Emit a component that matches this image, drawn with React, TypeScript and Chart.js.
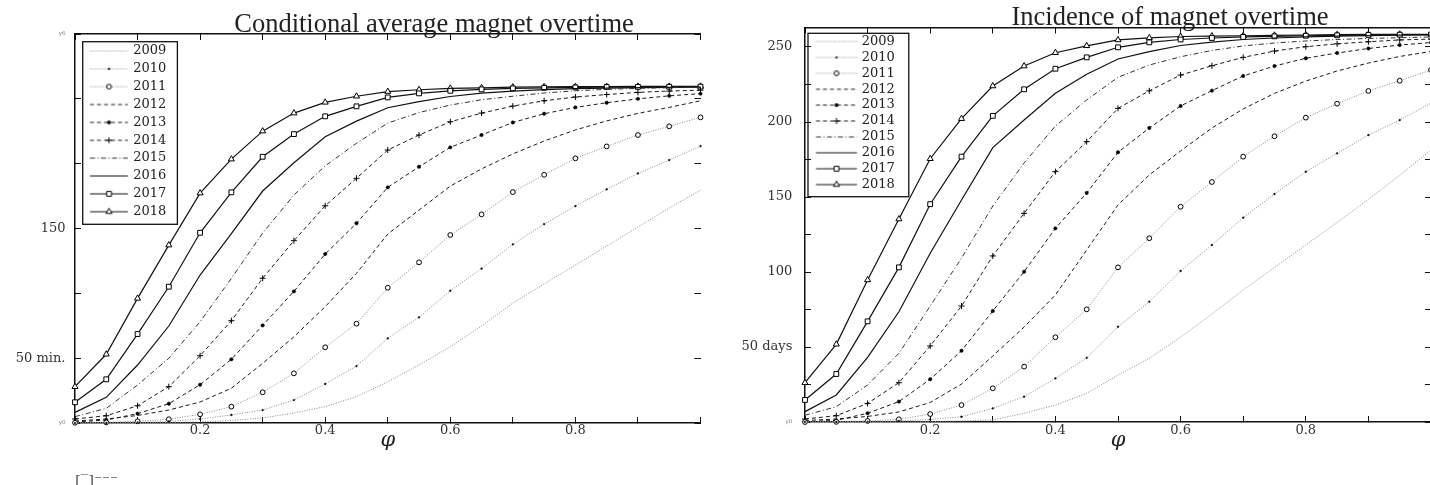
import React, { useEffect, useRef } from 'react';
import { Chart, registerables } from 'chart.js';

Chart.register(...registerables);

// ---------- data ----------
const PHI = [0, 0.05, 0.1, 0.15, 0.2, 0.25, 0.3, 0.35, 0.4, 0.45, 0.5, 0.55, 0.6, 0.65, 0.7, 0.75, 0.8, 0.85, 0.9, 0.95, 1];
const YEARS = ['2009', '2010', '2011', '2012', '2013', '2014', '2015', '2016', '2017', '2018'];

// Conditional average magnet overtime (minutes)
const AVG_2009 = [0, 0, 0, 0.4, 0.8, 1.9, 3.9, 7.7, 12.6, 20.3, 31.8, 44.7, 58.8, 74.8, 92.5, 107.2, 121.8, 136.5, 151.1, 165.8, 179.6];
const AVG_2010 = [0, 0, 0.4, 1.2, 3.1, 6.2, 10.0, 17.7, 30.1, 43.9, 65.3, 81.5, 102.0, 119.1, 137.8, 153.4, 167.3, 180.2, 192.5, 202.8, 213.6];
const AVG_2011 = [0.2, 0.5, 1.3, 2.9, 6.7, 12.6, 23.7, 38.3, 58.4, 76.6, 104.3, 123.9, 145.0, 160.9, 178.1, 191.4, 204.1, 213.3, 222.1, 228.8, 235.7];
const AVG_2012 = [1.5, 3.1, 5.8, 10.0, 16.2, 26.8, 46.0, 66.5, 89.7, 115.4, 145.7, 164.2, 182.7, 196.0, 207.5, 217.5, 226.0, 233.0, 238.8, 243.4, 248.5];
const AVG_2013 = [0.8, 2.3, 7.2, 14.9, 29.5, 49.1, 75.3, 101.5, 130.3, 154.0, 181.7, 197.6, 212.6, 222.1, 231.8, 238.5, 243.4, 247.0, 250.0, 252.3, 254.0];
const AVG_2014 = [3.1, 5.6, 13.3, 28.0, 51.9, 78.9, 111.6, 140.6, 167.5, 188.7, 210.5, 222.1, 232.3, 239.0, 244.4, 248.5, 251.4, 253.3, 255.0, 256.0, 256.7];
const AVG_2015 = [4.9, 11.3, 29.3, 49.9, 78.1, 111.5, 146.5, 175.8, 198.3, 215.7, 231.3, 239.4, 245.2, 249.3, 252.0, 254.5, 256.2, 257.3, 258.1, 258.6, 259.0];
const AVG_2016 = [8.2, 19.8, 44.7, 74.8, 114.1, 146.0, 178.9, 200.7, 220.7, 232.8, 243.1, 247.9, 251.8, 254.4, 256.0, 257.1, 257.8, 258.3, 258.7, 258.9, 259.1];
const AVG_2017 = [16.0, 33.7, 68.6, 105.1, 146.7, 177.9, 205.3, 222.8, 236.5, 244.2, 251.1, 254.2, 256.2, 257.3, 258.1, 258.5, 258.8, 259.1, 259.2, 259.3, 259.4];
const AVG_2018 = [28.0, 53.0, 96.1, 137.2, 177.3, 203.5, 225.1, 239.0, 247.3, 252.0, 255.6, 257.0, 258.1, 258.5, 259.1, 259.3, 259.4, 259.5, 259.6, 259.6, 259.6];

// Incidence of magnet overtime (days)
const DAYS_2009 = [0, 0, 0, 0, 0.3, 0.7, 1.3, 5.8, 11.3, 19.1, 31.3, 42.5, 56.5, 72.0, 88.0, 103.0, 118.0, 133.0, 148.5, 164.5, 181.3];
const DAYS_2010 = [0, 0, 0.2, 0.7, 1.7, 3.5, 9.1, 16.9, 29.1, 42.8, 63.5, 80.2, 100.7, 118.0, 136.2, 152.0, 166.9, 179.1, 191.3, 201.3, 212.5];
const DAYS_2011 = [0, 0.1, 0.7, 1.8, 5.3, 11.3, 22.5, 36.9, 56.5, 75.1, 103.1, 122.5, 143.5, 160.0, 176.9, 190.5, 202.9, 212.2, 220.7, 227.5, 234.7];
const DAYS_2012 = [1.0, 2.0, 3.7, 6.7, 13.0, 25.3, 44.0, 63.3, 84.7, 114.7, 144.7, 164.7, 180.7, 196.0, 208.7, 219.1, 227.3, 234.0, 239.3, 243.7, 247.0];
const DAYS_2013 = [0.2, 1.1, 5.8, 13.6, 28.5, 47.5, 74.0, 100.2, 129.1, 152.7, 179.8, 196.0, 210.7, 220.9, 230.7, 237.3, 242.5, 246.0, 249.0, 251.3, 253.0];
const DAYS_2014 = [2.0, 4.2, 12.4, 26.2, 50.7, 77.3, 110.7, 139.1, 166.9, 186.9, 209.1, 220.8, 231.3, 237.5, 243.1, 247.3, 250.2, 252.1, 253.5, 254.7, 255.3];
const DAYS_2015 = [4.5, 10.2, 24.7, 45.8, 77.3, 109.3, 144.0, 172.7, 197.3, 214.7, 229.8, 238.0, 243.5, 247.7, 250.7, 252.7, 254.0, 255.0, 255.7, 256.2, 256.7];
const DAYS_2016 = [6.9, 18.0, 43.1, 73.5, 112.5, 148.0, 182.9, 201.3, 219.1, 231.8, 242.0, 246.9, 251.0, 253.3, 255.0, 256.0, 256.7, 257.2, 257.6, 257.9, 258.0];
const DAYS_2017 = [14.7, 32.0, 67.1, 103.1, 145.2, 176.9, 204.1, 221.8, 235.5, 243.1, 249.8, 253.1, 255.0, 256.0, 256.7, 257.1, 257.5, 257.8, 258.0, 258.2, 258.3];
const DAYS_2018 = [26.2, 51.8, 94.7, 135.3, 175.5, 202.2, 224.0, 237.3, 246.2, 250.8, 254.7, 256.1, 257.0, 257.3, 257.5, 257.8, 258.0, 258.2, 258.4, 258.5, 258.5];

const X_TICKS = [0, 0.1, 0.2, 0.3, 0.4, 0.5, 0.6, 0.7, 0.8, 0.9, 1];
const X_TICK_LABELS = ['', '', '0.2', '', '0.4', '', '0.6', '', '0.8', '', ''];
const AVG_TICKS = [0, 50, 100, 150, 200, 250, 300];
const AVG_TICK_LABELS = ['y0', '50 min.', '', '150', '', '', 'y6'];
const DAYS_TICKS = [0, 25, 50, 75, 100, 125, 150, 175, 200, 225, 250];
const DAYS_TICK_LABELS = ['y0', '', '50 days', '', '100', '', '150', '', '200', '', '250'];

// ---------- styles ----------
type MarkerKind = 'none' | 'circle' | 'rect' | 'triangle' | 'cross';
interface SeriesStyle {
  color: string; width: number; dash: number[];
  point: MarkerKind; radius: number; fill: string; pointBorder: number;
}
const DOT = [1, 1.5];
const DASH = [4, 3];
const STYLES: SeriesStyle[] = [
  { color: '#8a8a8a', width: 1, dash: DOT, point: 'none', radius: 0, fill: '#000', pointBorder: 0 },
  { color: '#8a8a8a', width: 1, dash: DOT, point: 'circle', radius: 0.9, fill: '#000', pointBorder: 0.4 },
  { color: '#8a8a8a', width: 1, dash: DOT, point: 'circle', radius: 2.4, fill: '#fff', pointBorder: 1 },
  { color: '#1a1a1a', width: 1, dash: DASH, point: 'none', radius: 0, fill: '#000', pointBorder: 0 },
  { color: '#1a1a1a', width: 1, dash: DASH, point: 'circle', radius: 1.7, fill: '#000', pointBorder: 0.5 },
  { color: '#1a1a1a', width: 1, dash: DASH, point: 'cross', radius: 3, fill: '#000', pointBorder: 1 },
  { color: '#333', width: 1, dash: [5, 2.5, 1, 2.5], point: 'none', radius: 0, fill: '#000', pointBorder: 0 },
  { color: '#111', width: 1.2, dash: [], point: 'none', radius: 0, fill: '#000', pointBorder: 0 },
  { color: '#111', width: 1.2, dash: [], point: 'rect', radius: 3.4, fill: '#fff', pointBorder: 1 },
  { color: '#111', width: 1.2, dash: [], point: 'triangle', radius: 3.5, fill: '#fff', pointBorder: 1 },
];

interface PanelCfg {
  title: string;
  series: number[][];
  yMax: number; yTicks: number[]; yLabels: string[];
  yAxisW: number; rightAxisW: number; yLabelPad: number; xLabelPad: number;
  titlePad: { top: number; bottom: number };
  xAxisH: number; phiPadBottom: number; padBottom: number;
  note?: string; noteH?: number; notePadBottom?: number;
  legendPad: number; legendGap: number; legendBoxW: number;
  icon: { w: number; x1: number; x2: number; xm: number };
  frame: { l: number; t: number; r: number; b: number };
}

const LEFT: PanelCfg = {
  title: 'Conditional average magnet overtime',
  series: [AVG_2009, AVG_2010, AVG_2011, AVG_2012, AVG_2013, AVG_2014, AVG_2015, AVG_2016, AVG_2017, AVG_2018],
  yMax: 300, yTicks: AVG_TICKS, yLabels: AVG_TICK_LABELS,
  yAxisW: 75, rightAxisW: 167.5, yLabelPad: 15.5, xLabelPad: 6.3,
  titlePad: { top: 11.3, bottom: -3.8 },
  xAxisH: 32, phiPadBottom: 1.4, padBottom: 0,
  note: '[‾]⁻⁻⁻', noteH: 30, notePadBottom: -6.5,
  legendPad: 4.86, legendGap: 38.6, legendBoxW: 46.94,
  icon: { w: 50, x1: 11.67, x2: 49.67, xm: 30.67 },
  frame: { l: 2.84, t: -2.76, r: 11.0, b: 6.1 },
};

const RIGHT: PanelCfg = {
  title: 'Incidence of magnet overtime',
  series: [DAYS_2009, DAYS_2010, DAYS_2011, DAYS_2012, DAYS_2013, DAYS_2014, DAYS_2015, DAYS_2016, DAYS_2017, DAYS_2018],
  yMax: 263, yTicks: DAYS_TICKS, yLabels: DAYS_TICK_LABELS,
  yAxisW: 85, rightAxisW: 189, yLabelPad: 18.7, xLabelPad: 6.7,
  titlePad: { top: 4.65, bottom: -3.65 },
  xAxisH: 33, phiPadBottom: 1.4, padBottom: 30,
  legendPad: 2.9, legendGap: 31.1, legendBoxW: 47.3,
  icon: { w: 54, x1: 11.45, x2: 52.45, xm: 31.95 },
  frame: { l: 0.1, t: -1.7, r: 14.0, b: 5.6 },
};

function drawMarker(g: CanvasRenderingContext2D, st: SeriesStyle, x: number, y: number) {
  if (st.point === 'none') return;
  const r = st.radius;
  g.save();
  g.setLineDash([]);
  g.lineWidth = st.pointBorder;
  g.strokeStyle = '#000';
  g.fillStyle = st.fill;
  g.beginPath();
  if (st.point === 'circle') {
    g.arc(x, y, r, 0, Math.PI * 2);
    g.closePath();
  } else if (st.point === 'rect') {
    const s = r * Math.SQRT1_2;
    g.rect(x - s, y - s, 2 * s, 2 * s);
  } else if (st.point === 'triangle') {
    for (let k = 0; k < 3; k++) {
      const a = (k * 2 * Math.PI) / 3;
      const px = x + Math.sin(a) * r;
      const py = y - Math.cos(a) * r;
      if (k === 0) g.moveTo(px, py); else g.lineTo(px, py);
    }
    g.closePath();
  } else if (st.point === 'cross') {
    g.moveTo(x, y - r); g.lineTo(x, y + r);
    g.moveTo(x - r, y); g.lineTo(x + r, y);
  }
  if (st.point !== 'cross') g.fill();
  if (st.pointBorder > 0) g.stroke();
  g.restore();
}

function makeIcon(st: SeriesStyle, spec: PanelCfg['icon']): HTMLCanvasElement {
  const c = document.createElement('canvas');
  c.width = spec.w;
  c.height = 12;
  const g = c.getContext('2d')!;
  g.strokeStyle = st.color;
  g.lineWidth = st.width;
  g.setLineDash(st.dash);
  g.beginPath();
  g.moveTo(spec.x1, 6);
  g.lineTo(spec.x2, 6);
  g.stroke();
  drawMarker(g, st, spec.xm, 6);
  return c;
}

const legendFrame = {
  id: 'legendFrame',
  afterDraw(chart: any, _args: any, opts: any) {
    const boxes = chart.legend && chart.legend.legendHitBoxes;
    if (!boxes || !boxes.length) return;
    const left = Math.min(...boxes.map((b: any) => b.left)) + opts.l;
    const top = Math.min(...boxes.map((b: any) => b.top)) + opts.t;
    const right = Math.max(...boxes.map((b: any) => b.left + b.width)) + opts.r;
    const bottom = Math.max(...boxes.map((b: any) => b.top + b.height)) + opts.b;
    const ctx = chart.ctx;
    ctx.save();
    ctx.lineWidth = 1.3;
    ctx.strokeStyle = '#111';
    ctx.strokeRect(left, top, right - left, bottom - top);
    ctx.restore();
  },
};

const SERIF = 'DejaVu Serif';
const tickGrid = { display: true, drawOnChartArea: false, drawTicks: true, tickLength: -6, color: '#111', lineWidth: 1 };
const axisBorder = { display: true, color: '#111', width: 1.5 };

function buildConfig(cfg: PanelCfg): any {
  const icons = STYLES.map((st) => makeIcon(st, cfg.icon));
  const setX = (s: any) => { s.ticks = X_TICKS.map((v) => ({ value: v })); };
  const setY = (s: any) => { s.ticks = cfg.yTicks.map((v) => ({ value: v })); };
  const isTiny = (i: number) => (cfg.yLabels[i] || '').startsWith('y');

  const scales: any = {
    x: {
      type: 'linear', position: 'bottom', min: 0, max: 1, weight: 0,
      afterBuildTicks: setX,
      afterFit: (s: any) => { s.height = cfg.xAxisH; },
      grid: tickGrid, border: axisBorder,
      ticks: {
        autoSkip: false, maxRotation: 0, padding: cfg.xLabelPad,
        callback: (_v: any, i: number) => X_TICK_LABELS[i],
        font: { family: SERIF, size: 13 }, color: '#333',
      },
      title: {
        display: true, text: 'φ', color: '#222',
        font: { family: SERIF, size: 21, style: 'italic', lineHeight: 1.2 },
        padding: { top: 0, bottom: cfg.phiPadBottom },
      },
    },
    xTop: {
      type: 'linear', axis: 'x', position: 'top', min: 0, max: 1,
      afterBuildTicks: setX,
      afterFit: (s: any) => { s.height = 0; },
      grid: tickGrid, border: axisBorder,
      ticks: { display: false },
    },
    y: {
      type: 'linear', position: 'left', min: 0, max: cfg.yMax,
      afterBuildTicks: setY,
      afterFit: (s: any) => { s.width = cfg.yAxisW; },
      grid: tickGrid, border: axisBorder,
      ticks: {
        autoSkip: false, padding: cfg.yLabelPad,
        callback: (_v: any, i: number) => cfg.yLabels[i],
        font: (c: any) => (isTiny(c.index) ? { family: 'DejaVu Sans', size: 5.5 } : { family: SERIF, size: 13 }),
        color: (c: any) => (isTiny(c.index) ? '#888' : '#333'),
      },
    },
    yRight: {
      type: 'linear', axis: 'y', position: 'right', min: 0, max: cfg.yMax,
      afterBuildTicks: setY,
      afterFit: (s: any) => { s.width = cfg.rightAxisW; },
      grid: tickGrid, border: { display: false },
      ticks: { display: false },
    },
  };
  if (cfg.note) {
    scales.xNote = {
      type: 'linear', axis: 'x', position: 'bottom', min: 0, max: 1, weight: 1,
      afterFit: (s: any) => { s.height = cfg.noteH; },
      grid: { display: false }, border: { display: false },
      ticks: { display: false },
      title: {
        display: true, text: cfg.note, align: 'start', color: '#555',
        font: { family: SERIF, size: 15, lineHeight: 1.2 },
        padding: { top: 0, bottom: cfg.notePadBottom },
      },
    };
  }

  return {
    type: 'line',
    data: {
      datasets: cfg.series.map((vals, i) => {
        const st = STYLES[i];
        return {
          label: YEARS[i],
          data: PHI.map((x, j) => ({ x, y: vals[j] })),
          xAxisID: 'x', yAxisID: 'y',
          borderColor: st.color, borderWidth: st.width, borderDash: st.dash,
          pointStyle: st.point === 'none' ? 'circle' : st.point,
          pointRadius: st.point === 'none' ? 0 : st.radius,
          pointHoverRadius: 0,
          pointBackgroundColor: st.fill, pointBorderColor: '#000', pointBorderWidth: st.pointBorder,
          tension: 0, fill: false, clip: false,
        };
      }),
    },
    options: {
      responsive: false,
      animation: false,
      events: [],
      layout: { padding: { top: 0, left: 0, right: 0, bottom: cfg.padBottom } },
      scales,
      plugins: {
        tooltip: { enabled: false },
        title: {
          display: true, text: cfg.title, color: '#222',
          font: { family: 'Liberation Serif', size: 26.5, weight: 400, lineHeight: 1 },
          padding: cfg.titlePad,
        },
        legend: {
          display: true, position: 'chartArea', align: 'start',
          title: { display: true, text: ' ', font: { size: 1, lineHeight: 1 }, padding: { top: 0, bottom: cfg.legendGap } },
          labels: {
            usePointStyle: true, pointStyleWidth: cfg.legendBoxW, padding: cfg.legendPad,
            font: { family: SERIF, size: 13 }, color: '#222',
            generateLabels: (chart: any) =>
              chart.data.datasets.map((ds: any, i: number) => ({
                text: ds.label, pointStyle: icons[i], datasetIndex: i, hidden: false,
                fontColor: '#222', lineWidth: 0, strokeStyle: 'rgba(0,0,0,0)', fillStyle: 'rgba(0,0,0,0)',
              })),
          },
        },
        legendFrame: cfg.frame,
      },
    },
    plugins: [legendFrame],
  };
}

export default function App() {
  const leftRef = useRef<HTMLCanvasElement>(null);
  const rightRef = useRef<HTMLCanvasElement>(null);

  useEffect(() => {
    Chart.defaults.font.family = SERIF;
    const a = new Chart(leftRef.current as HTMLCanvasElement, buildConfig(LEFT));
    const b = new Chart(rightRef.current as HTMLCanvasElement, buildConfig(RIGHT));
    return () => { a.destroy(); b.destroy(); };
  }, []);

  return (
    <div style={{ position: 'fixed', left: 0, top: 0, width: 1430, height: 485, overflow: 'hidden', background: '#fff' }}>
      <canvas ref={leftRef} width={868} height={485} style={{ position: 'absolute', left: 0, top: 0, width: 868, height: 485 }} />
      <canvas ref={rightRef} width={900} height={485} style={{ position: 'absolute', left: 720, top: 0, width: 900, height: 485 }} />
    </div>
  );
}
